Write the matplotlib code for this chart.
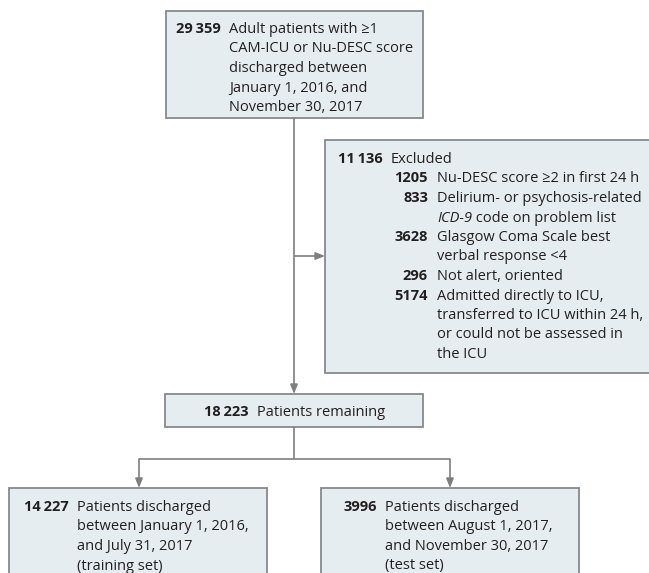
import matplotlib
matplotlib.use("Agg")
import matplotlib.pyplot as plt
import matplotlib.font_manager as fm
from matplotlib.patches import Rectangle

TS = "\u2009"  # thin space thousands separator

# ---- data ----
total_n = "29" + TS + "359"
total_text = ["Adult patients with \u22651", "CAM-ICU or Nu-DESC score", "discharged between",
              "January 1, 2016, and", "November 30, 2017"]
excluded_n = "11" + TS + "136"
excluded_label = "Excluded"
excl_counts = ["1205", "833", "3628", "296", "5174"]
excl_reasons = [
    ["Nu-DESC score \u22652 in first 24 h"],
    ["Delirium- or psychosis-related", ("ICD-9", " code on problem list")],
    ["Glasgow Coma Scale best", "verbal response <4"],
    ["Not alert, oriented"],
    ["Admitted directly to ICU,", "transferred to ICU within 24 h,", "or could not be assessed in", "the ICU"],
]
remaining_n = "18" + TS + "223"
remaining_text = "Patients remaining"
train_n = "14" + TS + "227"
train_text = ["Patients discharged", "between January 1, 2016,", "and July 31, 2017", "(training set)"]
test_n = "3996"
test_text = ["Patients discharged", "between August 1, 2017,", "and November 30, 2017", "(test set)"]


# ---- font selection: a family that has a bold face ----
def _w(v):
    if isinstance(v, str):
        return fm.weight_dict.get(v, 400)
    return v


def has_face(fam, bold=False, italic=False):
    for f in fm.fontManager.ttflist:
        if f.name != fam:
            continue
        if italic and f.style not in ("italic", "oblique"):
            continue
        if not italic and f.style != "normal":
            continue
        w = _w(f.weight)
        if bold and w >= 600:
            return True
        if not bold and w < 600:
            return True
    return False


cands = ["Noto Sans", "Open Sans", "Lato", "Roboto", "Liberation Sans", "DejaVu Sans"]
BODY = next((c for c in cands if has_face(c) and has_face(c, bold=True)), "DejaVu Sans")
BOLD = BODY
ITAL = BODY if has_face(BODY, italic=True) else next(
    (c for c in cands if has_face(c, italic=True)), "DejaVu Sans")

plt.rcParams['font.family'] = [BODY, 'DejaVu Sans']

# ---- style ----
W, H = 649, 573
FILL = "#e6edf1"
EDGE = "#878a8d"
LINE = "#7f7f7f"
FS = 10.5
LH = 19.5
TXT = "#231f20"

fig = plt.figure(figsize=(W / 100, H / 100), dpi=100)
ax = fig.add_axes([0, 0, 1, 1])
ax.set_xlim(0, W)
ax.set_ylim(H, 0)
ax.axis("off")
renderer = fig.canvas.get_renderer()


def box(x0, y0, x1, y1):
    ax.add_patch(Rectangle((x0, y0), x1 - x0, y1 - y0, facecolor=FILL,
                           edgecolor=EDGE, linewidth=1.3, zorder=1))


def num(x, y, s):
    ax.text(x, y, s, ha="right", va="baseline", fontsize=FS, fontweight="bold",
            family=[BOLD, 'DejaVu Sans'], color=TXT)


def lines(x, y, rows):
    for i, r in enumerate(rows):
        yy = y + i * LH
        if isinstance(r, tuple):
            t = ax.text(x, yy, r[0], ha="left", va="baseline", fontsize=FS,
                        style="italic", family=[ITAL, 'DejaVu Sans'], color=TXT)
            bb = t.get_window_extent(renderer=renderer)
            x2 = ax.transData.inverted().transform((bb.x1, bb.y0))[0]
            ax.text(x2, yy, r[1], ha="left", va="baseline", fontsize=FS, color=TXT)
        else:
            ax.text(x, yy, r, ha="left", va="baseline", fontsize=FS, color=TXT)


def arrow(x0, y0, x1, y1):
    ax.annotate("", xy=(x1, y1), xytext=(x0, y0),
                arrowprops=dict(arrowstyle="-|>,head_length=0.55,head_width=0.22",
                                color=LINE, lw=1.2, shrinkA=0, shrinkB=0), zorder=2)


# top box
box(166, 11, 423, 118)
num(221, 33, total_n)
lines(229, 33, total_text)

# main vertical with arrow
arrow(294, 118, 294, 394)
# side arrow to excluded
arrow(294, 256, 325, 256)

# excluded box
box(325, 140, 652, 373)
num(383, 163, excluded_n)
ax.text(391, 163, excluded_label, ha="left", va="baseline", fontsize=FS, color=TXT)
row = 1
for c, reasons in zip(excl_counts, excl_reasons):
    y = 163 + row * LH
    num(428, y, c)
    lines(437, y, reasons)
    row += len(reasons)

# remaining box
box(165, 394, 423, 427)
num(249, 416, remaining_n)
ax.text(257, 416, remaining_text, ha="left", va="baseline", fontsize=FS, color=TXT)

# split
ax.plot([294, 294], [427, 459], color=LINE, lw=1.2, solid_capstyle="butt")
ax.plot([139, 450], [459, 459], color=LINE, lw=1.2, solid_capstyle="butt")
arrow(139, 459, 139, 488)
arrow(450, 459, 450, 488)

# bottom boxes
box(9, 488, 267, 590)
num(69, 511, train_n)
lines(77, 511, train_text)

box(321, 488, 579, 590)
num(377, 511, test_n)
lines(385, 511, test_text)

fig.savefig("out.png", dpi=100, facecolor="white")
